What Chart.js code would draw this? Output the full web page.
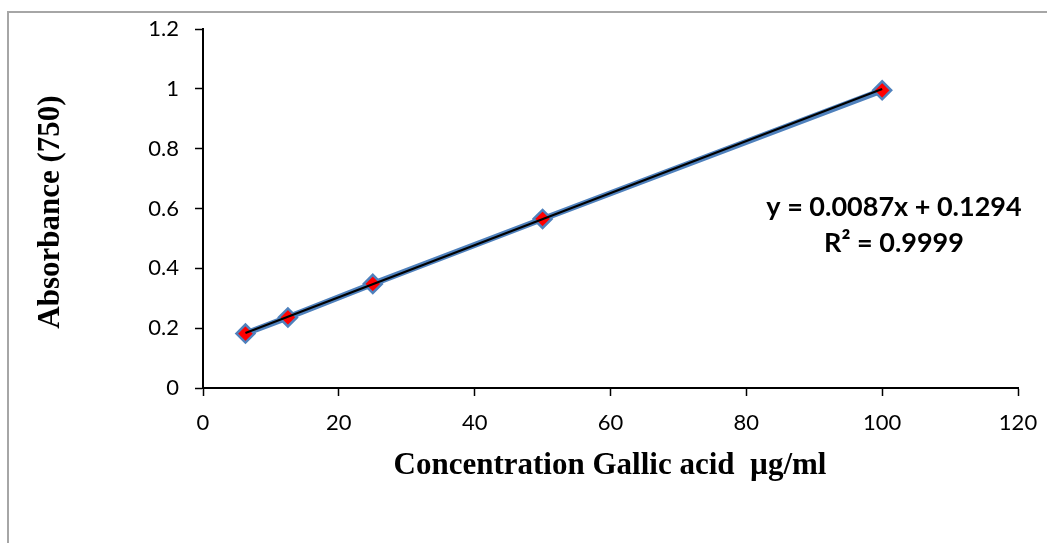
<!DOCTYPE html>
<html>
<head>
<meta charset="utf-8">
<script src="https://cdn.jsdelivr.net/npm/chart.js@4"></script>
<style>
  html, body { margin: 0; padding: 0; background: #fff; }
  #wrap { position: relative; width: 1047px; height: 543px; }
  #frame { position: absolute; left: 7px; top: 11px; right: 0; bottom: 0;
           border-top: 2px solid #a6a6a6; border-left: 2px solid #a6a6a6; pointer-events: none; }
  canvas { position: absolute; left: 0; top: 0; }
</style>
</head>
<body>
<div id="wrap">
  <canvas id="c" width="1047" height="543"></canvas>
  <div id="frame"></div>
</div>
<script>
// Data
const concentration = [6.25, 12.5, 25, 50, 100];
const absorbance = [0.182, 0.236, 0.348, 0.565, 0.995];
const xTicks = [0, 20, 40, 60, 80, 100, 120];
const yTicks = [0, 0.2, 0.4, 0.6, 0.8, 1, 1.2];
const trendSlope = 0.0087;
const trendIntercept = 0.1294;
const trendX = [6.25, 100];
const equationLines = ['y = 0.0087x + 0.1294', 'R\u00B2 = 0.9999'];
const xTitle = 'Concentration Gallic acid  \u00B5g/ml';
const yTitle = 'Absorbance (750)';

const seriesPoints = concentration.map((x, i) => ({ x: x, y: absorbance[i] }));
const trendPoints = trendX.map(x => ({ x: x, y: trendSlope * x + trendIntercept }));

const CA = { left: 203, right: 1018, top: 29, bottom: 388 };

const layoutFix = {
  id: 'layoutFix',
  afterDraw(chart) {
    const ctx = chart.ctx;
    ctx.save();
    ctx.fillStyle = '#000';
    ctx.textAlign = 'center';
    ctx.textBaseline = 'middle';
    ctx.font = 'bold 27px Lato, "Open Sans", sans-serif';
    ctx.fillText(equationLines[0], 894, 207);
    ctx.fillText(equationLines[1], 894, 243);
    // axis titles
    ctx.font = 'bold 31px "Liberation Serif", "Times New Roman", serif';
    ctx.fillText(xTitle, 610, 466);
    ctx.translate(51, 212);
    ctx.rotate(-Math.PI / 2);
    ctx.fillText(yTitle, 0, 0);
    ctx.restore();
  }
};

const gridOpts = { display: true, drawOnChartArea: false, drawTicks: true, tickLength: 8, tickColor: '#000', tickWidth: 1.5, color: '#000' };

new Chart(document.getElementById('c'), {
  type: 'scatter',
  data: {
    datasets: [
      {
        label: 'Trend',
        data: trendPoints,
        showLine: true,
        borderColor: '#000000',
        borderWidth: 2.2,
        pointRadius: 0,
        order: 0
      },
      {
        label: 'Absorbance',
        data: seriesPoints,
        showLine: true,
        borderColor: '#4F81BD',
        borderWidth: 6,
        pointStyle: 'rectRot',
        pointRadius: 9,
        pointBackgroundColor: '#FF0000',
        pointBorderColor: '#4F81BD',
        pointBorderWidth: 2.5,
        order: 1
      }
    ]
  },
  options: {
    responsive: false,
    animation: false,
    devicePixelRatio: 1,
    layout: { padding: { left: 0, right: 1047 - CA.right, top: CA.top, bottom: 0 } },
    plugins: { legend: { display: false }, tooltip: { enabled: false } },
    scales: {
      x: {
        type: 'linear',
        min: 0, max: 120,
        afterBuildTicks(s) { s.ticks = xTicks.map(v => ({ value: v })); },
        afterFit(s) { s.height = 543 - CA.bottom; s.paddingLeft = 0; s.paddingRight = 0; },
        grid: gridOpts,
        border: { display: true, color: '#000', width: 2 },
        ticks: { color: '#000', font: { family: 'Lato, "Open Sans", sans-serif', size: 22 }, padding: 14, maxRotation: 0 }
      },
      y: {
        type: 'linear',
        min: 0, max: 1.2,
        afterBuildTicks(s) { s.ticks = yTicks.map(v => ({ value: v })); },
        afterFit(s) { s.width = CA.left; s.paddingTop = 0; s.paddingBottom = 0; },
        grid: gridOpts,
        border: { display: true, color: '#000', width: 2 },
        ticks: { color: '#000', font: { family: 'Lato, "Open Sans", sans-serif', size: 22 }, padding: 16,
                 callback: v => String(Math.round(v * 10) / 10) }
      }
    }
  },
  plugins: [layoutFix]
});
</script>
</body>
</html>
